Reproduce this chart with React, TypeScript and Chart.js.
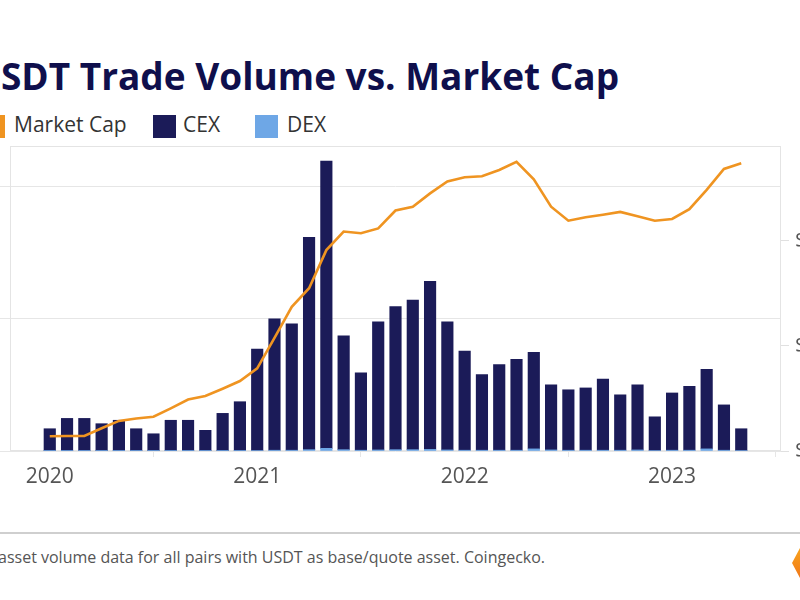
import React, { useEffect, useRef } from "react";
import { Chart, registerables } from "chart.js";

Chart.register(...registerables);

// ---- data ----
const months = [
  "Jan 2020", "Feb 2020", "Mar 2020", "Apr 2020", "May 2020", "Jun 2020",
  "Jul 2020", "Aug 2020", "Sep 2020", "Oct 2020", "Nov 2020", "Dec 2020",
  "Jan 2021", "Feb 2021", "Mar 2021", "Apr 2021", "May 2021", "Jun 2021",
  "Jul 2021", "Aug 2021", "Sep 2021", "Oct 2021", "Nov 2021", "Dec 2021",
  "Jan 2022", "Feb 2022", "Mar 2022", "Apr 2022", "May 2022", "Jun 2022",
  "Jul 2022", "Aug 2022", "Sep 2022", "Oct 2022", "Nov 2022", "Dec 2022",
  "Jan 2023", "Feb 2023", "Mar 2023", "Apr 2023", "May 2023",
];

// monthly CEX volume, $B
const cexVolume = [
  83, 122, 122, 102, 115, 83, 64, 115, 115, 77, 141, 185,
  383, 496, 477, 801, 1084, 430, 292, 483, 540, 565, 634, 483,
  374, 285, 323, 343, 364, 246, 228, 235, 268, 209, 246, 127,
  216, 241, 300, 171, 82,
];

// monthly DEX volume, $B
const dexVolume = [
  1, 1, 1, 1, 1, 1, 1, 1, 1, 1, 1, 1,
  2, 3, 3, 5, 10, 5, 3, 4, 5, 5, 6, 4,
  3, 3, 3, 3, 8, 4, 3, 3, 3, 3, 4, 2,
  3, 3, 8, 3, 2,
];

// USDT market cap, $B
const marketCap = [
  4.2, 4.3, 4.3, 6.5, 8.6, 9.3, 9.8, 12.2, 14.7, 15.7, 17.8, 20.0,
  23.6, 32.3, 41.2, 46.5, 57.4, 62.7, 62.2, 63.6, 68.7, 69.8, 73.6, 77.0,
  78.2, 78.5, 80.3, 82.6, 77.6, 69.8, 65.8, 66.8, 67.5, 68.3, 67.1, 65.8,
  66.3, 69.1, 74.6, 80.6, 82.2,
];

const yearTickIndex = [0, 12, 24, 36];
const yearTickLabels = ["2020", "2021", "2022", "2023"];
const volumeTicks = [0, 500, 1000];
const marketCapTicks = [0, 30, 60];

const TITLE = "USDT Trade Volume vs. Market Cap";
const FOOTER = "asset volume data for all pairs with USDT as base/quote asset. Coingecko.";

const NAVY = "#1b1b58";
const LIGHT_BLUE = "#6ea7e6";
const ORANGE = "#ef9421";
const FONT = "'Open Sans', 'DejaVu Sans', sans-serif";

const X_MIN = -2.3;
const X_MAX = 42.3;
const VOL_MAX = 1151;
const CAP_MAX = 87.14;

const framePlugin = {
  id: "frame",
  beforeDatasetsDraw(chart: any) {
    const { ctx, chartArea } = chart;
    const l = Math.round(chartArea.left) + 0.5;
    const t = Math.round(chartArea.top) + 0.5;
    const r = Math.round(chartArea.right) - 0.5;
    const b = Math.round(chartArea.bottom) - 0.5;
    ctx.save();
    ctx.strokeStyle = "#e4e4e4";
    ctx.lineWidth = 1;
    ctx.strokeRect(l, t, r - l, b - t);
    ctx.restore();
  },
};

function fixRange(min: number, max: number, ticks: number[]) {
  return (scale: any) => {
    scale.min = min;
    scale.max = max;
    scale.ticks = ticks.map((v) => ({ value: v }));
  };
}

function fixSize(prop: "width" | "height", size: number) {
  return (scale: any) => {
    scale[prop] = size;
    scale.paddingTop = 0;
    scale.paddingBottom = 0;
    scale.paddingLeft = 0;
    scale.paddingRight = 0;
  };
}

function UsdtChart() {
  const ref = useRef<HTMLCanvasElement | null>(null);

  useEffect(() => {
    if (!ref.current) return;
    const chart = new Chart(ref.current, {
      type: "bar",
      data: {
        labels: months,
        datasets: [
          {
            type: "line",
            label: "Market Cap",
            data: marketCap.map((v, i) => ({ x: i, y: v })),
            yAxisID: "y1",
            borderColor: ORANGE,
            backgroundColor: ORANGE,
            borderWidth: 2.6,
            pointRadius: 0,
            tension: 0,
            order: 0,
          } as any,
          {
            label: "DEX",
            data: dexVolume.map((v, i) => ({ x: i, y: v })),
            backgroundColor: LIGHT_BLUE,
            yAxisID: "y",
            stack: "vol",
            barThickness: 11.5,
            order: 1,
          },
          {
            label: "CEX",
            data: cexVolume.map((v, i) => ({ x: i, y: v })),
            backgroundColor: NAVY,
            yAxisID: "y",
            stack: "vol",
            barThickness: 11.5,
            order: 1,
          },
        ],
      },
      options: {
        animation: false,
        responsive: false,
        devicePixelRatio: 1,
        layout: { padding: { top: 6, left: 0, right: 0, bottom: 0 } },
        plugins: {
          legend: { display: false },
          tooltip: { enabled: false },
          title: { display: false },
        },
        scales: {
          x: {
            type: "linear",
            bounds: "data",
            offset: false,
            min: X_MIN,
            max: X_MAX,
            grid: {
              drawOnChartArea: false,
              drawTicks: true,
              tickLength: 6,
              color: "#e6e6e6",
            },
            border: { display: false },
            afterBuildTicks: fixRange(X_MIN, X_MAX, yearTickIndex),
            afterFit: fixSize("height", 49),
            ticks: {
              autoSkip: false,
              maxRotation: 0,
              padding: 7,
              color: "#555555",
              font: { family: FONT, size: 21 },
              callback: (value: any) => {
                const k = yearTickIndex.indexOf(Number(value));
                return k >= 0 ? yearTickLabels[k] : "";
              },
            },
          },
          y: {
            type: "linear",
            position: "left",
            stacked: true,
            bounds: "data",
            min: 0,
            max: VOL_MAX,
            grid: {
              color: "#e6e6e6",
              drawTicks: true,
              tickLength: 10,
            },
            border: { display: false },
            afterBuildTicks: fixRange(0, VOL_MAX, volumeTicks),
            afterFit: fixSize("width", 70),
            ticks: {
              padding: 4,
              color: "#555555",
              font: { family: FONT, size: 21 },
              callback: (value: any) =>
                Number(value) >= 1000 ? `$${Number(value) / 1000}T` : Number(value) === 0 ? "$0" : `$${value}B`,
            },
          },
          y1: {
            type: "linear",
            position: "right",
            bounds: "data",
            min: 0,
            max: CAP_MAX,
            grid: {
              drawOnChartArea: false,
              drawTicks: true,
              tickLength: 8,
              color: "#e0e0e0",
            },
            border: { display: false },
            afterBuildTicks: fixRange(0, CAP_MAX, marketCapTicks),
            afterFit: fixSize("width", 79),
            ticks: {
              padding: 6,
              color: "#555555",
              font: { family: FONT, size: 21 },
              callback: (value: any) => (Number(value) === 0 ? "$0" : `$${value}B`),
            },
          },
        },
      },
      plugins: [framePlugin],
    });
    return () => chart.destroy();
  }, []);

  return (
    <canvas
      ref={ref}
      width={920}
      height={360}
      style={{ position: "absolute", left: -60, top: 140, width: 920, height: 360 }}
    />
  );
}

function LegendItem({ color, label, boxLeft, textLeft }: { color: string; label: string; boxLeft: number; textLeft: number }) {
  return (
    <>
      <div
        style={{
          position: "absolute",
          left: boxLeft,
          top: 115,
          width: 23,
          height: 23,
          background: color,
        }}
      />
      <div
        style={{
          position: "absolute",
          left: textLeft,
          top: 114,
          fontFamily: FONT,
          fontSize: 21,
          lineHeight: "21px",
          color: "#333333",
          whiteSpace: "nowrap",
        }}
      >
        {label}
      </div>
    </>
  );
}

export default function App() {
  return (
    <div
      style={{
        position: "fixed",
        left: 0,
        top: 0,
        width: 800,
        height: 600,
        overflow: "hidden",
        background: "#ffffff",
      }}
    >
      <div
        style={{
          position: "absolute",
          left: -27,
          top: 57,
          fontFamily: FONT,
          fontWeight: 700,
          fontSize: 37,
          lineHeight: "37px",
          color: "#0f0f4c",
          whiteSpace: "nowrap",
        }}
      >
        {TITLE}
      </div>

      <LegendItem color={ORANGE} label="Market Cap" boxLeft={-18} textLeft={14} />
      <LegendItem color={NAVY} label="CEX" boxLeft={153} textLeft={183} />
      <LegendItem color={LIGHT_BLUE} label="DEX" boxLeft={255} textLeft={287} />

      <UsdtChart />

      <div
        style={{
          position: "absolute",
          left: 0,
          top: 532,
          width: 800,
          height: 2,
          background: "#cfcfcf",
        }}
      />
      <div
        style={{
          position: "absolute",
          left: -2,
          top: 549,
          fontFamily: FONT,
          fontSize: 16,
          lineHeight: "16px",
          color: "#555555",
          whiteSpace: "nowrap",
        }}
      >
        {FOOTER}
      </div>
      <div
        style={{
          position: "absolute",
          left: 792,
          top: 547,
          width: 34,
          height: 32,
          background: "linear-gradient(180deg, #f9a51c 0%, #f07619 100%)",
          clipPath: "polygon(25% 0%, 75% 0%, 100% 50%, 75% 100%, 25% 100%, 0% 50%)",
        }}
      />
    </div>
  );
}
